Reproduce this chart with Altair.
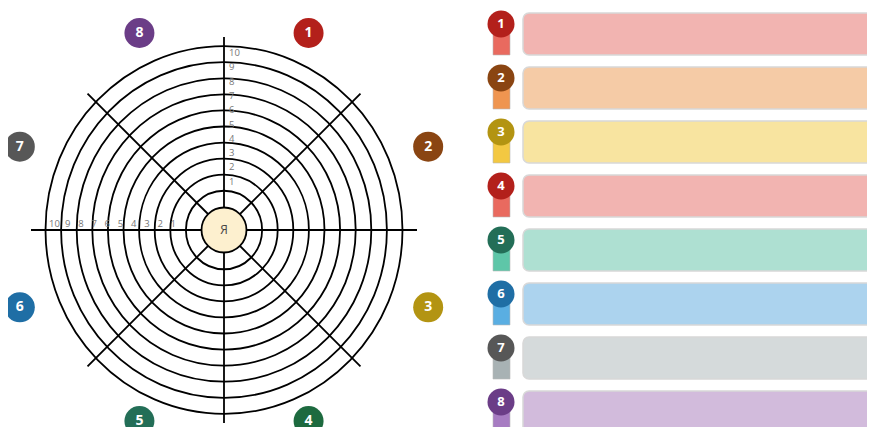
import math
import altair as alt
import pandas as pd

# ---------------- data ----------------
rings = [1, 2, 3, 4, 5, 6, 7, 8, 9, 10]
ring_labels = ["1", "2", "3", "4", "5", "6", "7", "8", "9", "10"]
center_label = "Я"
badges = ["1", "2", "3", "4", "5", "6", "7", "8"]
badge_colors = ["#b3201b", "#8a4512", "#b39412", "#1d6a3f", "#236e57", "#1f6ea5", "#575757", "#6b3d87"]
pin_labels = ["1", "2", "3", "4", "5", "6", "7", "8"]
pin_colors = ["#b3201b", "#8a4512", "#b39412", "#b3201b", "#236e57", "#1f6ea5", "#575757", "#6b3d87"]
stem_colors = ["#e96a5f", "#ef9550", "#f3c842", "#e96a5f", "#5ec6a8", "#5aaee2", "#a8b2b4", "#a77cc2"]
bar_colors = ["#f2b4b1", "#f5cba6", "#f8e4a0", "#f2b4b1", "#aee0d2", "#acd3ee", "#d5dadb", "#d2bbdc"]

# ---------------- layout ----------------
CX, CY = 224, 230
R0, DR = 22.5, 15.6
ARM = 193
BCX, BCY, BRX, BRY = 224, 227, 221, 210
ROW0, ROWSTEP, BARH = 34, 54, 42
ELLIPSE = "M-1,0A1,1.03 0 1,1 1,0A1,1.03 0 1,1 -1,0Z"

rings_df = pd.DataFrame({
    "x": [CX] * len(rings),
    "y": [CY] * len(rings),
    "sz": [(2 * (R0 + DR * k)) ** 2 for k in rings],
})
center_df = pd.DataFrame({"x": [CX], "y": [CY], "sz": [(2 * R0) ** 2], "label": [center_label]})

angles = [0, 45, 90, 135, 180, 225, 270, 315]
arms_df = pd.DataFrame({
    "x": [CX] * 8,
    "y": [CY] * 8,
    "x2": [CX + ARM * math.sin(math.radians(a)) for a in angles],
    "y2": [CY - ARM * math.cos(math.radians(a)) for a in angles],
})

vlab_df = pd.DataFrame({
    "x": [CX + 5] * len(rings),
    "y": [CY - 34 - 14.3 * k for k in rings],
    "label": ring_labels,
})
hlab_df = pd.DataFrame({
    "x": [CX - 37.5 - 13.2 * k for k in rings],
    "y": [CY - 6] * len(rings),
    "label": ring_labels,
})

bang = [22.5 + 45 * i for i in range(len(badges))]
badge_df = pd.DataFrame({
    "x": [BCX + BRX * math.sin(math.radians(a)) for a in bang],
    "y": [BCY - BRY * math.cos(math.radians(a)) for a in bang],
    "label": badges,
    "col": badge_colors,
})

rows = list(range(len(pin_labels)))
yc = [ROW0 + ROWSTEP * i for i in rows]
bars_df = pd.DataFrame({
    "x": [523] * len(rows), "x2": [900] * len(rows),
    "y": [c - BARH / 2 for c in yc], "y2": [c + BARH / 2 for c in yc],
    "col": bar_colors,
})
stems_df = pd.DataFrame({
    "x": [493] * len(rows), "x2": [510] * len(rows),
    "y": [c - 10 for c in yc], "y2": [c + BARH / 2 for c in yc],
    "col": stem_colors,
})
pins_df = pd.DataFrame({
    "x": [501] * len(rows),
    "y": [c - 10 for c in yc],
    "label": pin_labels,
    "col": pin_colors,
})

# ---------------- scales ----------------
xs = alt.Scale(domain=[8, 867], nice=False, zero=False)
ys = alt.Scale(domain=[8, 427], reverse=True, nice=False, zero=False)

def X(f="x"):
    return alt.X(f, type="quantitative", scale=xs, axis=None)

def Y(f="y"):
    return alt.Y(f, type="quantitative", scale=ys, axis=None)

FONT = "Open Sans"

ring_layer = alt.Chart(rings_df).mark_point(
    shape=ELLIPSE, filled=False, stroke="black", strokeWidth=1.8, opacity=1
).encode(x=X(), y=Y(), size=alt.Size("sz:Q", scale=None))

arm_layer = alt.Chart(arms_df).mark_rule(color="black", strokeWidth=1.8).encode(
    x=X(), y=Y(), x2=alt.X2("x2"), y2=alt.Y2("y2")
)

center_layer = alt.Chart(center_df).mark_point(
    shape="circle", filled=True, fill="#fdf0cf", stroke="black", strokeWidth=1.8, opacity=1
).encode(x=X(), y=Y(), size=alt.Size("sz:Q", scale=None))

center_text = alt.Chart(center_df).mark_text(
    font=FONT, fontSize=12, color="#444444", baseline="middle", align="center"
).encode(x=X(), y=Y(), text="label:N")

vlab_layer = alt.Chart(vlab_df).mark_text(
    font=FONT, fontSize=9.5, color="#777777", align="left", baseline="middle"
).encode(x=X(), y=Y(), text="label:N")

hlab_layer = alt.Chart(hlab_df).mark_text(
    font=FONT, fontSize=9.5, color="#777777", align="center", baseline="middle"
).encode(x=X(), y=Y(), text="label:N")

badge_layer = alt.Chart(badge_df).mark_point(shape="circle", filled=True, opacity=1, size=900).encode(
    x=X(), y=Y(), color=alt.Color("col:N", scale=None)
)
badge_text = alt.Chart(badge_df).mark_text(
    font=FONT, fontSize=14, fontWeight="bold", color="white", align="center", baseline="middle"
).encode(x=X(), y=Y(), text="label:N")

bar_layer = alt.Chart(bars_df).mark_rect(
    cornerRadius=6, stroke="#d8d8d8", strokeWidth=1.5
).encode(x=X(), x2=alt.X2("x2"), y=Y(), y2=alt.Y2("y2"), color=alt.Color("col:N", scale=None))

stem_layer = alt.Chart(stems_df).mark_rect(stroke="#bbbbbb", strokeWidth=0.6).encode(
    x=X(), x2=alt.X2("x2"), y=Y(), y2=alt.Y2("y2"), color=alt.Color("col:N", scale=None)
)
pin_layer = alt.Chart(pins_df).mark_point(shape="circle", filled=True, opacity=1, size=729).encode(
    x=X(), y=Y(), color=alt.Color("col:N", scale=None)
)
pin_text = alt.Chart(pins_df).mark_text(
    font=FONT, fontSize=13, fontWeight="bold", color="white", align="center", baseline="middle"
).encode(x=X(), y=Y(), text="label:N")

chart = alt.layer(
    ring_layer, arm_layer, center_layer, center_text, vlab_layer, hlab_layer,
    badge_layer, badge_text, bar_layer, stem_layer, pin_layer, pin_text
).properties(
    width=859, height=419, padding=0,
    autosize=alt.AutoSizeParams(type="none"),
).configure_view(stroke=None)

chart.save("out.html", embed_options={"renderer": "svg", "actions": False})
